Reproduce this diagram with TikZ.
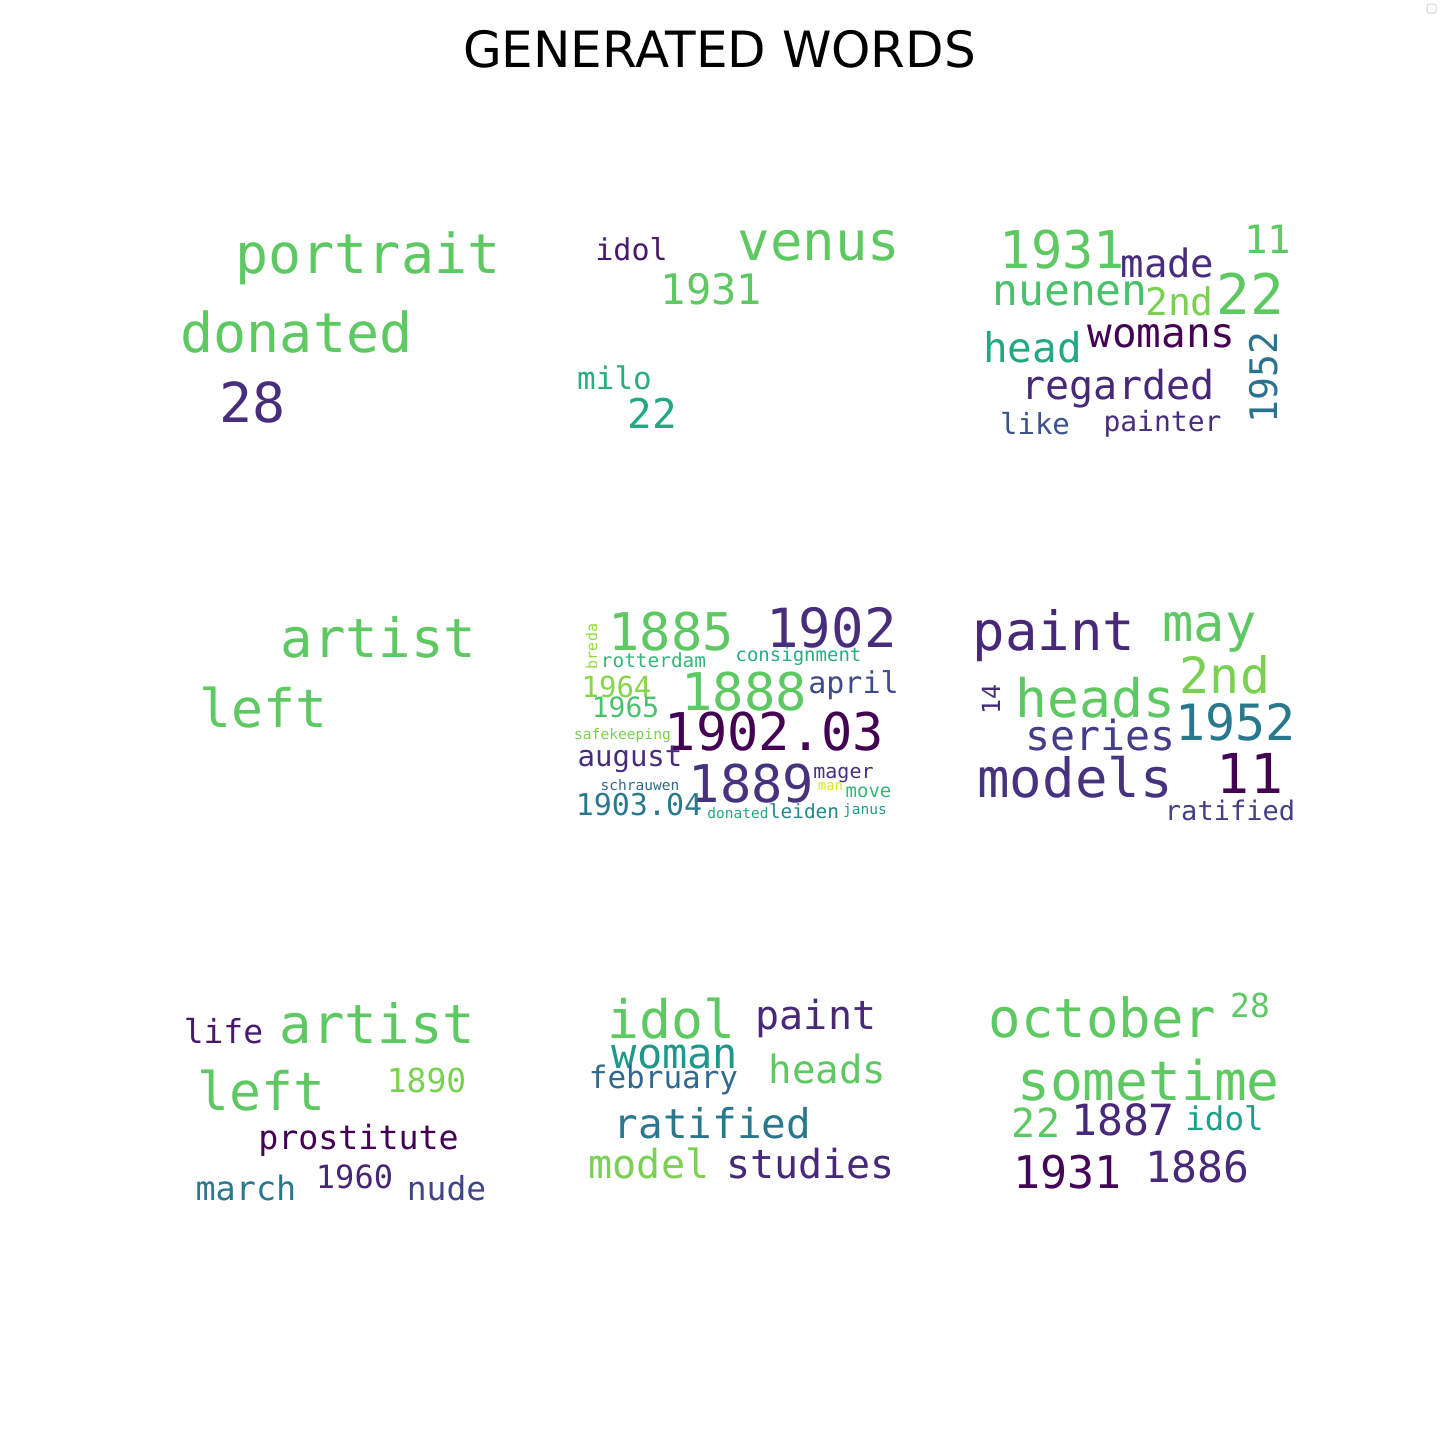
\documentclass[tikz,border=0pt]{standalone}
\usepackage{fontspec}
\newfontfamily\wfont{DejaVu Sans Mono}
\newfontfamily\tfont{DejaVu Sans}
\definecolor{vgreen}{HTML}{5EC962}
\definecolor{vgreenb}{HTML}{4AC16D}
\definecolor{vlgreen}{HTML}{7AD151}
\definecolor{vlgreenb}{HTML}{86D549}
\definecolor{vygreen}{HTML}{95D840}
\definecolor{vtgreen}{HTML}{35B779}
\definecolor{vtgreenb}{HTML}{29AF7F}
\definecolor{vteal}{HTML}{22A884}
\definecolor{vtealb}{HTML}{1F9E89}
\definecolor{vtealc}{HTML}{1F988B}
\definecolor{vtealblue}{HTML}{23898E}
\definecolor{vblue}{HTML}{2A788E}
\definecolor{vsteel}{HTML}{2C728E}
\definecolor{vsteelb}{HTML}{31688E}
\definecolor{vblueb}{HTML}{3B528B}
\definecolor{vbluec}{HTML}{3E4A89}
\definecolor{vpb}{HTML}{414487}
\definecolor{vpbb}{HTML}{433E85}
\definecolor{vpa}{HTML}{46327E}
\definecolor{vpc}{HTML}{472D7B}
\definecolor{vpd}{HTML}{482878}
\definecolor{vpe}{HTML}{482475}
\definecolor{vpf}{HTML}{481A6C}
\definecolor{vdark}{HTML}{440154}
\definecolor{vdarkb}{HTML}{450559}
\definecolor{vyellow}{HTML}{DDE318}
\tikzset{
  wd/.style={inner sep=0pt, outer sep=0pt, anchor=base, font=\wfont\fontsize{#1}{#1}\selectfont},
  wr/.style={inner sep=0pt, outer sep=0pt, anchor=base, rotate=90, font=\wfont\fontsize{#1}{#1}\selectfont},
}
\begin{document}
\begin{tikzpicture}[x=1pt,y=-1pt]
\useasboundingbox[fill=white] (0,0) rectangle (1440,1440);
\draw[gray!35, line width=1pt, rounded corners=1.5pt] (1427,4) rectangle (1436,13);
\node[inner sep=0pt, anchor=base, font=\tfont\fontsize{50}{50}\selectfont] (title) at (719.5,67) {GENERATED WORDS};
% cell 1
\node[wd=55, text=vgreen] (a1) at (368,273) {portrait};
\node[wd=55, text=vgreen] (a2) at (296.5,352) {donated};
\node[wd=55, text=vpc] (a3) at (252.5,422) {28};
% cell 2
\node[wd=30, text=vpf] (b1) at (631.5,260) {idol};
\node[wd=54, text=vgreen] (b2) at (819,260) {venus};
\node[wd=42, text=vgreen] (b3) at (711.5,304) {1931};
\node[wd=31, text=vtgreenb] (b4) at (614.5,389) {milo};
\node[wd=41, text=vteal] (b5) at (652.5,428) {22};
% cell 3
\node[wd=52, text=vgreen] (c1) at (1062.5,268) {1931};
\node[wd=39, text=vpc] (c2) at (1167.5,277) {made};
\node[wd=39, text=vgreen] (c3) at (1267.5,253) {11};
\node[wd=56, text=vgreen] (c4) at (1250,314) {22};
\node[wd=43, text=vgreenb] (c5) at (1070,305) {nuenen};
\node[wd=38, text=vlgreen] (c6) at (1179.5,315) {2nd};
\node[wd=41, text=vdark] (c7) at (1161.5,347) {womans};
\node[wd=41, text=vteal] (c8) at (1032.5,362) {head};
\node[wr=38, text=vsteel] (c9) at (1277,377.5) {1952};
\node[wd=40, text=vpd] (c10) at (1118,399) {regarded};
\node[wd=29, text=vblueb] (c11) at (1035,434) {like};
\node[wd=28, text=vpc] (c12) at (1162.5,431) {painter};
% cell 4
\node[wd=54, text=vgreen] (d1) at (378.5,657) {artist};
\node[wd=53, text=vgreen] (d2) at (263.5,727) {left};
% cell 5
\node[wd=52, text=vgreen] (e1) at (671,650) {1885};
\node[wd=54, text=vpc] (e2) at (831.5,647) {1902};
\node[wr=15, text=vygreen] (e3) at (597,646.5) {breda};
\node[wd=19.4, text=vtgreen] (e4) at (653.5,667) {rotterdam};
\node[wd=19, text=vtgreenb] (e5) at (798.5,661) {consignment};
\node[wd=29, text=vlgreenb] (e6) at (616.5,697) {1964};
\node[wd=52, text=vgreen] (e7) at (744,710) {1888};
\node[wd=30, text=vbluec] (e8) at (853.5,693) {april};
\node[wd=28, text=vgreenb] (e9) at (625.5,717) {1965};
\node[wd=52, text=vdark] (e10) at (774.5,750) {1902.03};
\node[wd=14.6, text=vlgreen] (e11) at (622.5,739) {safekeeping};
\node[wd=29, text=vpc] (e12) at (630,766) {august};
\node[wd=52, text=vpa] (e13) at (751.5,802) {1889};
\node[wd=20, text=vpa] (e14) at (843.5,778) {mager};
\node[wd=14.5, text=vsteelb] (e15) at (640,790) {schrauwen};
\node[wd=14, text=vyellow] (e16) at (830.5,790) {man};
\node[wd=19, text=vtgreen] (e17) at (868.5,797) {move};
\node[wd=30, text=vblue] (e18) at (639,815) {1903.04};
\node[wd=14.5, text=vteal] (e19) at (738,818) {donated};
\node[wd=19.5, text=vtealblue] (e20) at (804,818) {leiden};
\node[wd=14.5, text=vtealb] (e21) at (865,814) {janus};
% cell 6
\node[wd=54, text=vpd] (f1) at (1054,650) {paint};
\node[wd=52, text=vgreen] (f2) at (1209.5,641) {may};
\node[wd=50, text=vlgreen] (f3) at (1225,693) {2nd};
\node[wr=25, text=vpc] (f4) at (1000,699.5) {14};
\node[wd=53, text=vgreen] (f5) at (1095.5,717) {heads};
\node[wd=50, text=vblue] (f6) at (1235.5,740) {1952};
\node[wd=41.5, text=vpbb] (f7) at (1100.5,750) {series};
\node[wd=54, text=vpa] (f8) at (1075,797) {models};
\node[wd=55, text=vdark] (f9) at (1250,793) {11};
\node[wd=27, text=vpbb] (f10) at (1230,820) {ratified};
% cell 7
\node[wd=33, text=vpf] (g1) at (223.5,1043) {life};
\node[wd=54, text=vgreen] (g2) at (377.5,1043) {artist};
\node[wd=53, text=vgreen] (g3) at (261.5,1110) {left};
\node[wd=33, text=vlgreen] (g4) at (426.5,1092) {1890};
\node[wd=33.3, text=vdark] (g5) at (358.5,1149) {prostitute};
\node[wd=32, text=vpe] (g6) at (354.5,1188) {1960};
\node[wd=33.5, text=vblue] (g7) at (246,1200) {march};
\node[wd=33, text=vpb] (g8) at (446.5,1200) {nude};
% cell 8
\node[wd=53, text=vgreen] (h1) at (671.5,1038) {idol};
\node[wd=40, text=vpd] (h2) at (816,1029) {paint};
\node[wd=42, text=vtealc] (h3) at (675,1068) {woman};
\node[wd=39, text=vgreen] (h4) at (827.5,1083) {heads};
\node[wd=31, text=vsteelb] (h5) at (663.5,1088) {february};
\node[wd=41, text=vblue] (h6) at (712.5,1138) {ratified};
\node[wd=40, text=vlgreen] (h7) at (649,1178) {model};
\node[wd=40, text=vpd] (h8) at (810.5,1178) {studies};
% cell 9
\node[wd=54, text=vgreen] (i1) at (1102.5,1037) {october};
\node[wd=33, text=vgreen] (i2) at (1250,1017) {28};
\node[wd=54.5, text=vgreen] (i3) at (1148.5,1100) {sometime};
\node[wd=40, text=vgreen] (i4) at (1036,1137) {22};
\node[wd=43, text=vpd] (i5) at (1123,1135) {1887};
\node[wd=32.5, text=vtealb] (i6) at (1224.5,1130) {idol};
\node[wd=45, text=vdarkb] (i7) at (1067.5,1188) {1931};
\node[wd=43, text=vpd] (i8) at (1197.5,1182) {1886};
\end{tikzpicture}
\end{document}
